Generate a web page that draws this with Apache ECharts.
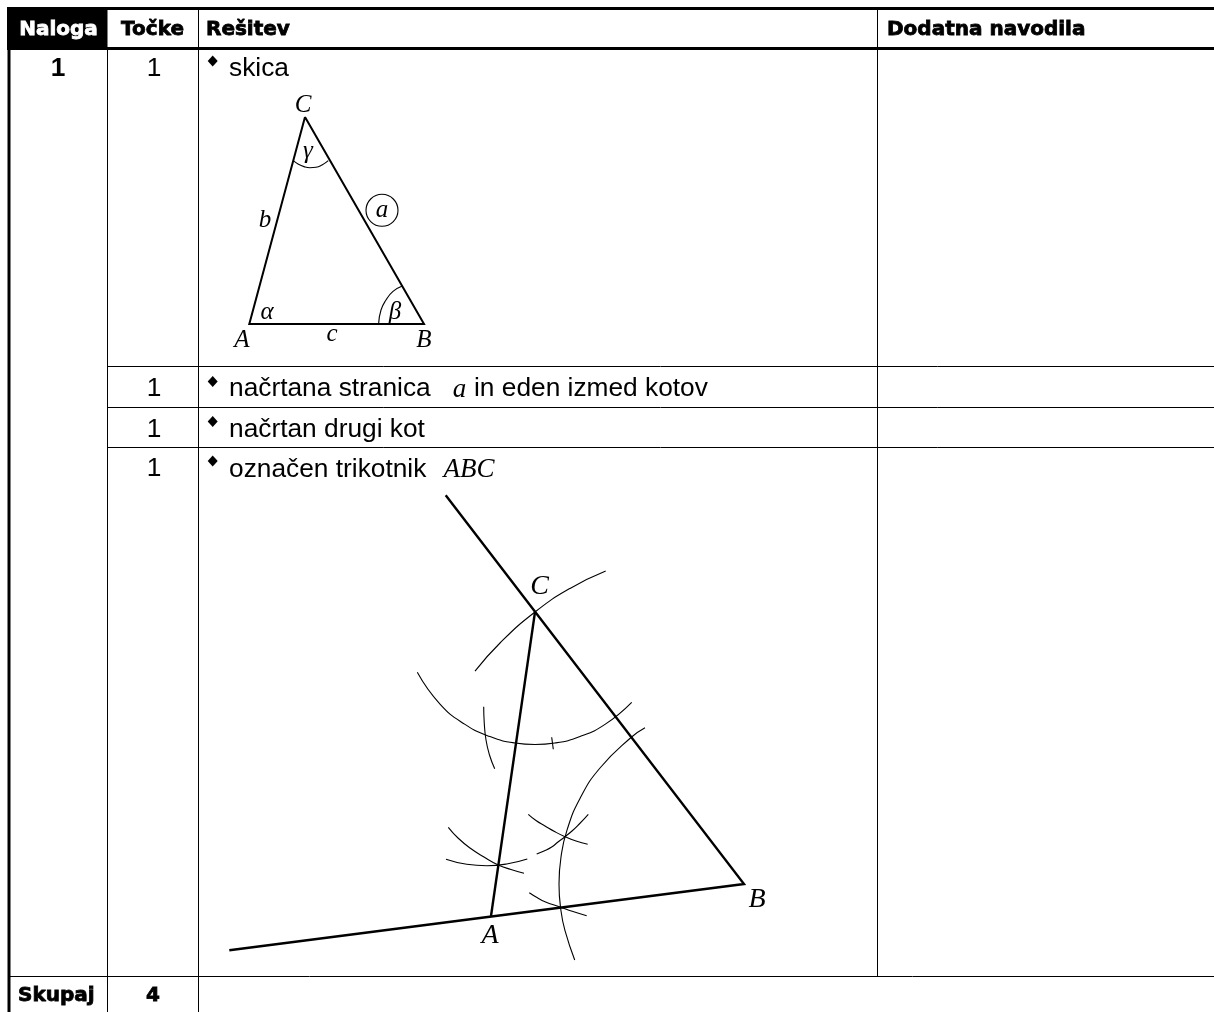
<!DOCTYPE html>
<html><head><meta charset="utf-8">
<style>html,body{margin:0;padding:0;background:#fff}#c{width:1214px;height:1012px}</style>
<script src="https://cdn.jsdelivr.net/npm/echarts@6/dist/echarts.min.js"></script>
</head><body><div id="c"></div>
<script>
// table rules, in page pixels
const thickRules = [
  [[7,8.5],[1214,8.5]], [[7,48.5],[1214,48.5]], [[9,7],[9,1012]]
];
const thinRules = [
  [[107.5,48],[107.5,1012]], [[198.5,8],[198.5,1012]], [[877.5,8],[877.5,976]],
  [[107,366.5],[1214,366.5]], [[107,407.5],[1214,407.5]], [[107,447.5],[1214,447.5]], [[8,976.5],[1214,976.5]]
];
const headerFill = [[7,8,107.5,48]];
const bullets = [[212.7,61],[212.7,381.5],[212.7,421.5],[212.7,461]];

// sketch triangle
const sketchTriangle = [[305,117],[249.3,324],[424,324],[305,117]];
const sketchArcs = [
  [[293.3,160.7],[298,164],[304,166.6],[310,167.7],[316,167.3],[322,165],[328.3,160.7]],
  [[378.6,324],[381,310],[386,300],[393,291.4],[402.3,286]]
];
const sketchCircle = [[382,210.3]];

// construction, heavy strokes
const constructionLines = [
  [[445.7,495.3],[744,884],[229.3,950.3]],
  [[535,612],[491,916]]
];
// construction, compass arcs
const compassArcs = [
  [[475,671.2],[500,643],[535,612],[570,588.4],[605.7,571]],
  [[417.3,672.3],[440,704.1],[465,724.4],[490,736.6],[515,743],[535,744.5],[555,743],[580,736.6],[605,724.4],[631.7,702.3]],
  [[483.7,706.7],[484.2,722],[486,740],[489.5,755],[494.7,768.7]],
  [[551.7,737.3],[553.3,749.3]],
  [[645,727.7],[631,737.5],[600,768],[580,798.4],[567,830.2],[561,857],[559,884],[561,911],[565,930.7],[574.7,960]],
  [[448.3,827.3],[458,838],[470,848],[484,857],[498.3,865],[511,869.5],[524,873.3]],
  [[446,859.3],[466.7,864.3],[486.7,865.7],[506.7,864],[527.3,859]],
  [[528.3,814.3],[536,820.5],[545,826],[555,831.8],[565,836.7],[576,841],[587.7,844.3]],
  [[536.7,854],[544,851],[551.7,847],[558,842],[565,836.7],[572,831],[578.3,825],[588.3,814.3]],
  [[529.3,892.7],[537,897.5],[545,901.7],[559.3,906.7],[573,911.5],[586.7,915.7]]
];

// texts: [x, y, text]
const headerWhite = [[58.5,30,'Naloga']];
const headerBlack = [[152.5,30,'Točke']];
const headerBlackLeft = [[206,30,'Rešitev'],[887,30,'Dodatna navodila'],[18,996,'Skupaj']];
const totalValue = [[153,996,'4']];
const taskNumber = [[58,69,'1']];
const pointValues = [[154,69,'1'],[154,389,'1'],[154,430,'1'],[154,469,'1']];
const bodyTexts = [[229,69,'skica'],[229,389,'načrtana stranica'],[474,389,'in eden izmed kotov'],[229,430,'načrtan drugi kot'],[229,470,'označen trikotnik']];
const italicSmall = [[303,105,'C'],[308,151,'γ'],[382,210,'a'],[265,220,'b'],[267,312,'α'],[395,312,'β'],[332,334,'c'],[242,340,'A'],[424,340,'B']];
const italicInline = [[459.5,390,'a'],[469,470,'ABC']];
const italicLarge = [[539.5,587,'C'],[490,936,'A'],[757,899.5,'B']];

const poly = (pts, width, smooth) => ({
  type:'line', data:pts, showSymbol:false, symbol:'none', silent:true, animation:false, smooth:smooth?0.5:false,
  lineStyle:{color:'#000', width:width, cap:'butt', join:'miter', opacity:1}, z:3
});
const texts = (items, st, align) => ({
  type:'scatter', data:items, symbolSize:0, silent:true, animation:false, z:5,
  itemStyle:{opacity:1},
  encode:{x:0,y:1},
  label:Object.assign({show:true, position:'inside', align:align||'center', verticalAlign:'middle',
    formatter:p=>p.data[2]}, st)
});
const blackFont = {fontFamily:'"DejaVu Sans"', fontWeight:'bold', fontSize:20, color:'#000', textBorderColor:'#000', textBorderWidth:0.8};
const series = [];
series.push({type:'custom', silent:true, animation:false, z:1, data:headerFill, encode:{x:[0,2],y:[1,3]},
  renderItem:(p,api)=>{
    const a=api.coord([api.value(0),api.value(1)]), b=api.coord([api.value(2),api.value(3)]);
    return {type:'rect', shape:{x:a[0],y:a[1],width:b[0]-a[0],height:b[1]-a[1]}, style:{fill:'#000'}};
  }});
thickRules.forEach(l=>series.push(poly(l,3)));
thinRules.forEach(l=>series.push(poly(l,1)));
series.push(poly(sketchTriangle,2));
sketchArcs.forEach(l=>series.push(poly(l,1.1,true)));
constructionLines.forEach(l=>series.push(poly(l,2.4)));
compassArcs.forEach(l=>series.push(poly(l,1.1,true)));
series.push({type:'scatter', data:sketchCircle, symbol:'circle', symbolSize:32, silent:true, animation:false,
  itemStyle:{color:'none', borderColor:'#000', borderWidth:1.1, opacity:1}, z:3});
series.push({type:'scatter', data:bullets, symbol:'diamond', symbolSize:[10,11], silent:true, animation:false,
  itemStyle:{color:'#000', opacity:1}, z:3});
series.push(texts(headerWhite, Object.assign({},blackFont,{color:'#fff',textBorderColor:'#fff'})));
series.push(texts(headerBlack, blackFont));
series.push(texts(headerBlackLeft, blackFont, 'left'));
series.push(texts(totalValue, blackFont));
const sans = {fontFamily:'"Liberation Sans"', fontSize:26.3, color:'#000'};
series.push(texts(taskNumber, Object.assign({},sans,{fontWeight:'bold'})));
series.push(texts(pointValues, sans));
series.push(texts(bodyTexts, sans, 'left'));
series.push(texts(italicSmall, {fontFamily:'"Liberation Serif"', fontStyle:'italic', fontSize:25, color:'#000'}));
series.push(texts(italicInline, {fontFamily:'"Liberation Serif"', fontStyle:'italic', fontSize:27, color:'#000'}));
series.push(texts(italicLarge, {fontFamily:'"Liberation Serif"', fontStyle:'italic', fontSize:28, color:'#000'}));

const chart = echarts.init(document.getElementById('c'), null, {renderer:'canvas', width:1214, height:1012});
chart.setOption({
  animation:false, backgroundColor:'#fff',
  grid:{left:0,right:0,top:0,bottom:0},
  xAxis:{type:'value',min:0,max:1214,show:false},
  yAxis:{type:'value',min:0,max:1012,inverse:true,show:false},
  tooltip:{show:false}, legend:{show:false},
  series:series
});
</script></body></html>
